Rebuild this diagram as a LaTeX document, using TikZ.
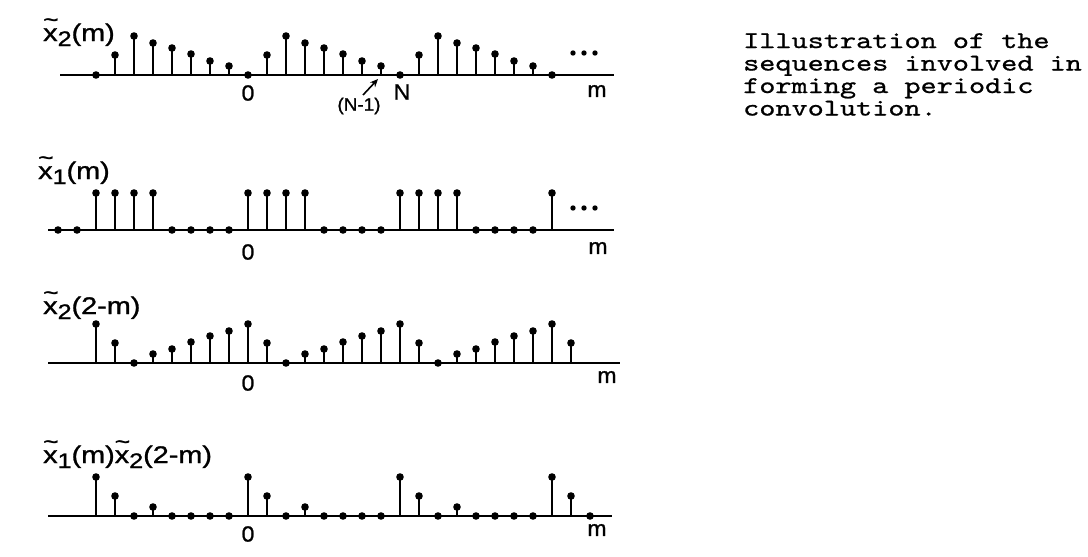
\documentclass[tikz,border=0pt]{standalone}
\usepackage{fontspec}
\usetikzlibrary{arrows.meta}
\newfontfamily\labfont{Liberation Sans}[FakeStretch=1.2,FakeBold=1.2]
\newfontfamily\axfont{Liberation Sans}[FakeStretch=1.05,FakeBold=1.0]
\newfontfamily\capfont{lmmono10-regular.otf}[FakeStretch=1.28,FakeBold=0.9]
\newcommand\tx{\makebox[0pt][l]{\raisebox{14pt}{\fontsize{22}{22}\selectfont\char"007E}}x}
\newcommand\sbs[1]{\raisebox{-5pt}{\fontsize{21}{21}\selectfont #1}}
\tikzset{
  stemline/.style={line width=2.8pt},
  axisline/.style={line width=2.3pt},
  headdot/.style={fill=black},
  rowlab/.style={font=\labfont\fontsize{24}{24}\selectfont, anchor=base west, inner sep=0pt},
  axlab/.style={font=\axfont\fontsize{22}{22}\selectfont, inner sep=0pt},
  smalllab/.style={font=\axfont\fontsize{18}{18}\selectfont, inner sep=0pt},
  captext/.style={font=\capfont\fontsize{24}{22.5}\selectfont, align=left, anchor=north west, inner sep=0pt},
  arr/.style={line width=1.6pt, -{Stealth[length=8pt,width=7pt]}},
}
\begin{document}
\begin{tikzpicture}[x=1pt,y=-1pt]
\useasboundingbox (0,0) rectangle (1088,557);
\fill[white] (0,0) rectangle (1088,557);
\def\htwo{{0,20,39,32,27,21,14,9}}
% ---------- row 1: x2(m)
\draw[axisline] (60,75) -- (614,75);
\foreach \m in {-8,...,16}{
  \pgfmathsetmacro\h{\htwo[int(Mod(\m,8))]}
  \pgfmathsetmacro\xx{248+19*\m}
  \draw[stemline] (\xx,75) -- (\xx,75-\h);
  \fill[headdot] (\xx,75-\h) circle (3.8);
}
\foreach \xx in {573,584,595}{\fill (\xx,53) circle (2.7);}
\node[rowlab] (lab1) at (43,41) {\tx\sbs{2}(m)};
\node[axlab] (z1) at (248,93) {0};
\node[axlab] (nn) at (402,92) {N};
\node[axlab] (m1) at (597,91) {m};
\node[smalllab] (nm1lab) at (359,106) {(N-1)};
\coordinate (nm1tail) at (363,95);
\coordinate (nm1tip) at (378,79);
\draw[arr] (nm1tail) -- (nm1tip);
% ---------- row 2: x1(m)
\draw[axisline] (48,230) -- (614,230);
\foreach \m in {-10,...,16}{
  \pgfmathsetmacro\h{(Mod(\m,8)<4)*37}
  \pgfmathsetmacro\xx{248+19*\m}
  \draw[stemline] (\xx,230) -- (\xx,230-\h);
  \fill[headdot] (\xx,230-\h) circle (3.8);
}
\foreach \xx in {573,584,595}{\fill (\xx,208) circle (2.7);}
\node[rowlab] (lab2) at (38,179) {\tx\sbs{1}(m)};
\node[axlab] (z2) at (248,252) {0};
\node[axlab] (m2) at (598,248) {m};
% ---------- row 3: x2(2-m)
\draw[axisline] (48,363) -- (620,363);
\foreach \m in {-8,...,17}{
  \pgfmathsetmacro\h{\htwo[int(Mod(2-\m,8))]}
  \pgfmathsetmacro\xx{248+19*\m}
  \draw[stemline] (\xx,363) -- (\xx,363-\h);
  \fill[headdot] (\xx,363-\h) circle (3.8);
}
\node[rowlab] (lab3) at (43,314) {\tx\sbs{2}(2-m)};
\node[axlab] (z3) at (248,383) {0};
\node[axlab] (m3) at (607,377) {m};
% ---------- row 4: x1(m) x2(2-m)
\draw[axisline] (48,516) -- (612,516);
\foreach \m in {-8,...,18}{
  \pgfmathsetmacro\h{(Mod(\m,8)<4)*\htwo[int(Mod(2-\m,8))]}
  \pgfmathsetmacro\xx{248+19*\m}
  \draw[stemline] (\xx,516) -- (\xx,516-\h);
  \fill[headdot] (\xx,516-\h) circle (3.8);
}
\node[rowlab] (lab4) at (43,463) {\tx\sbs{1}(m)\tx\sbs{2}(2-m)};
\node[axlab] (z4) at (248,534) {0};
\node[axlab] (m4) at (597,530) {m};
% ---------- caption
\node[captext] (cap) at (743,33) {Illustration of the\\sequences involved in\\forming a periodic\\convolution.};
\end{tikzpicture}
\end{document}
